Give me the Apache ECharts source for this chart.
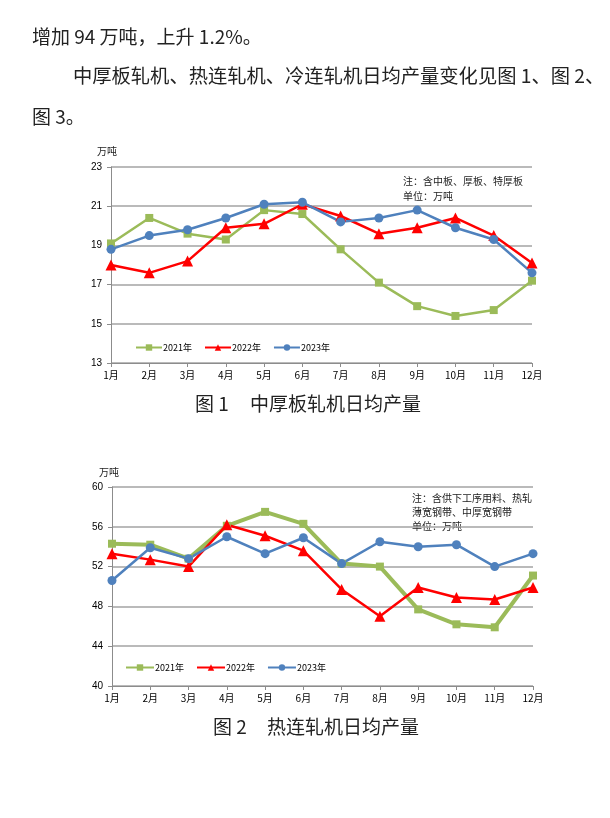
<!DOCTYPE html>
<html>
<head>
<meta charset="utf-8">
<script src="https://cdn.jsdelivr.net/npm/echarts@6/dist/echarts.min.js"></script>
<style>
html,body{margin:0;padding:0;background:#fff;}
#c{width:610px;height:818px;}
</style>
</head>
<body>
<div id="c"></div>
<script>
var months = ['1月','2月','3月','4月','5月','6月','7月','8月','9月','10月','11月','12月'];
var seriesNames = ['2021年','2022年','2023年'];

// 图1 中厚板轧机日均产量（万吨）
var plate2021 = [19.1, 20.4, 19.6, 19.3, 20.8, 20.6, 18.8, 17.1, 15.9, 15.4, 15.7, 17.2];
var plate2022 = [18.0, 17.6, 18.2, 19.9, 20.1, 21.1, 20.5, 19.6, 19.9, 20.4, 19.5, 18.1];
var plate2023 = [18.8, 19.5, 19.8, 20.4, 21.1, 21.2, 20.2, 20.4, 20.8, 19.9, 19.3, 17.6];

// 图2 热连轧机日均产量（万吨）
var hot2021 = [54.3, 54.2, 52.8, 56.1, 57.5, 56.3, 52.3, 52.0, 47.7, 46.2, 45.9, 51.1];
var hot2022 = [53.3, 52.7, 52.0, 56.2, 55.1, 53.6, 49.7, 47.0, 49.9, 48.9, 48.7, 49.9];
var hot2023 = [50.6, 53.9, 52.8, 55.0, 53.3, 54.9, 52.3, 54.5, 54.0, 54.2, 52.0, 53.3];

var colors = ['#9BBB59', '#FF0000', '#4F81BD'];
var symbols = ['rect', 'triangle', 'circle'];
var symbolSizes = [8, 11, 9];

var CJK = '"Noto Sans CJK SC", sans-serif';
var textColor = '#222';

function mkAxes(gridIndex, min, max, interval) {
  var axisLine = {show: true, lineStyle: {color: '#8c8c8c', width: 1}};
  var tick = {show: true, inside: false, length: 4, lineStyle: {color: '#8c8c8c'}};
  return {
    x: {
      type: 'category', gridIndex: gridIndex, data: months, boundaryGap: false,
      axisLine: axisLine, axisTick: tick,
      axisLabel: {color: '#000', fontSize: 10, fontFamily: CJK, margin: 7},
      splitLine: {show: false}
    },
    y: {
      type: 'value', gridIndex: gridIndex, min: min, max: max, interval: interval,
      axisLine: axisLine, axisTick: tick,
      axisLabel: {color: '#000', fontSize: 10, fontFamily: 'Liberation Sans, sans-serif', margin: 9},
      splitLine: {show: true, lineStyle: {color: '#a3a3a3', width: 1.6}}
    }
  };
}

var a1 = mkAxes(0, 13, 23, 2);
var a2 = mkAxes(1, 40, 60, 4);

function mkSeries(idx, data, gi, width) {
  return {
    name: seriesNames[idx], type: 'line', xAxisIndex: gi, yAxisIndex: gi,
    data: data, symbol: symbols[idx], symbolSize: symbolSizes[idx],
    showAllSymbol: true,
    lineStyle: {color: colors[idx], width: width},
    itemStyle: {color: colors[idx]},
    emphasis: {disabled: true},
    animation: false
  };
}

function txt(x, y, s, size, align) {
  return {
    type: 'text', left: x, top: y,
    style: {text: s, fontSize: size, fontFamily: CJK, fill: textColor, align: align || 'left'}
  };
}

var option = {
  backgroundColor: '#fff',
  animation: false,
  grid: [
    {left: 111, top: 167, width: 421, height: 196},
    {left: 112, top: 487, width: 421, height: 199}
  ],
  xAxis: [a1.x, a2.x],
  yAxis: [a1.y, a2.y],
  legend: [
    {data: seriesNames, left: 130, top: 338, itemWidth: 26, itemHeight: 8, itemGap: 12,
     textStyle: {fontSize: 9, color: '#000', fontFamily: CJK, padding: [0,0,0,-4]}, selectedMode: false},
    {data: seriesNames, left: 120, top: 658, itemWidth: 28, itemHeight: 8, itemGap: 12,
     textStyle: {fontSize: 9, color: '#000', fontFamily: CJK, padding: [0,0,0,-4]}, selectedMode: false}
  ],
  series: [
    mkSeries(0, plate2021, 0, 2.5),
    mkSeries(1, plate2022, 0, 2.5),
    mkSeries(2, plate2023, 0, 2.5),
    mkSeries(0, hot2021, 1, 4),
    mkSeries(1, hot2022, 1, 2.5),
    mkSeries(2, hot2023, 1, 2.5)
  ],
  graphic: [
    txt(32, 27, '增加 94 万吨，上升 1.2%。', 19),
    txt(73, 66, '中厚板轧机、热连轧机、冷连轧机日均产量变化见图 1、图 2、', 19.3),
    txt(32, 107, '图 3。', 19),
    txt(97, 146, '万吨', 10),
    txt(403, 176, '注：含中板、厚板、特厚板', 10),
    txt(403, 191, '单位：万吨', 10),
    txt(195, 394, '图 1', 19),
    txt(250, 394, '中厚板轧机日均产量', 19),
    txt(99, 467, '万吨', 10),
    txt(412, 493, '注：含供下工序用料、热轧', 10),
    txt(412, 507, '薄宽钢带、中厚宽钢带', 10),
    txt(412, 521, '单位：万吨', 10),
    txt(213, 717, '图 2', 19),
    txt(267, 717, '热连轧机日均产量', 19)
  ]
};

var chart = echarts.init(document.getElementById('c'), null, {renderer: 'canvas'});
chart.setOption(option);
</script>
</body>
</html>
